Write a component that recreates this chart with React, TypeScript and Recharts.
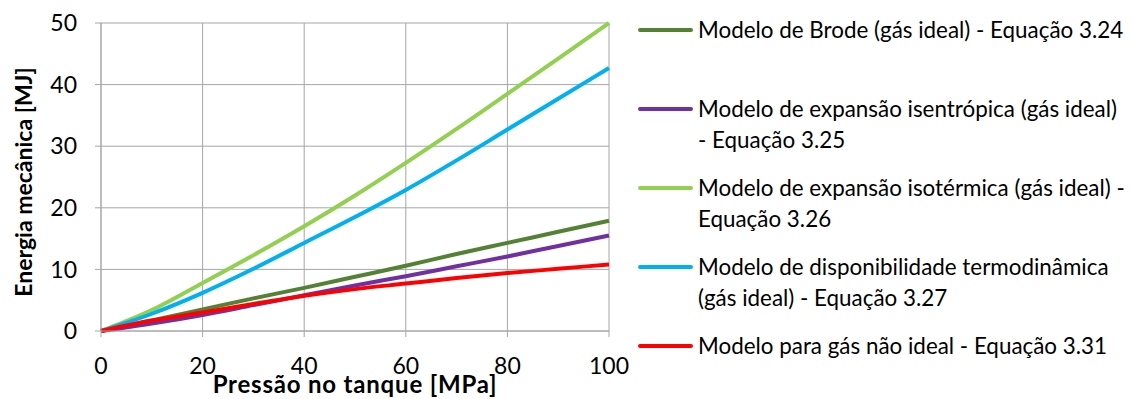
import React from 'react'
import { LineChart, Line, XAxis, YAxis, CartesianGrid, Legend } from 'recharts'

const PRESSURE = [0, 10, 20, 30, 40, 50, 60, 70, 80, 90, 100]

const BRODE = [0, 1.7, 3.5, 5.3, 7.0, 8.8, 10.6, 12.5, 14.3, 16.1, 17.9]
const ISENTROPIC = [0, 1.2, 2.6, 4.2, 5.8, 7.4, 8.9, 10.5, 12.1, 13.8, 15.5]
const ISOTHERMAL = [0, 3.4, 7.8, 12.3, 17.0, 22.0, 27.3, 32.8, 38.5, 44.2, 50.0]
const AVAILABILITY = [0, 2.8, 6.2, 10.1, 14.3, 18.5, 22.9, 27.7, 32.7, 37.7, 42.7]
const NON_IDEAL = [0, 1.7, 3.0, 4.4, 5.7, 6.8, 7.7, 8.6, 9.4, 10.1, 10.8]

const X_TICKS = [0, 20, 40, 60, 80, 100]
const Y_TICKS = [0, 10, 20, 30, 40, 50]

const SERIES = [
  { key: 'brode', label: 'Modelo de Brode (gás ideal) - Equação 3.24', color: '#548235', values: BRODE },
  { key: 'isentropic', label: 'Modelo de expansão isentrópica (gás ideal)\n- Equação 3.25', color: '#7030A0', values: ISENTROPIC },
  { key: 'isothermal', label: 'Modelo de expansão isotérmica (gás ideal) -\nEquação 3.26', color: '#92D050', values: ISOTHERMAL },
  { key: 'availability', label: 'Modelo de disponibilidade termodinâmica\n(gás ideal) - Equação 3.27', color: '#00B0F0', values: AVAILABILITY },
  { key: 'nonideal', label: 'Modelo para gás não ideal - Equação 3.31', color: '#FF0000', values: NON_IDEAL },
]

const data = PRESSURE.map((p, i) => {
  const row: Record<string, number> = { p }
  SERIES.forEach((s) => { row[s.key] = s.values[i] })
  return row
})

const FONT = 'Lato, "Open Sans", sans-serif'
const GRID = '#a6a6a6'

function XTitle({ viewBox }: any) {
  const cx = viewBox.x + viewBox.width / 2
  return (
    <text x={cx} y={viewBox.y + 62} textAnchor="middle" letterSpacing={0.8}
      fontFamily={FONT} fontWeight={700} fontSize={24} fill="#000">
      Pressão no tanque [MPa]
    </text>
  )
}

function YTitle({ viewBox }: any) {
  const cy = viewBox.y + viewBox.height / 2 + 5
  const cx = 23
  return (
    <text x={cx} y={cy} textAnchor="middle" dominantBaseline="central"
      transform={`rotate(-90, ${cx}, ${cy})`}
      fontFamily={FONT} fontWeight={700} fontSize={23} fill="#000">
      Energia mecânica [MJ]
    </text>
  )
}

function LegendBox() {
  return (
    <div style={{ fontFamily: FONT, fontSize: 22.4, color: '#000', width: 560 }}>
      {SERIES.map((s) => (
        <div key={s.key} style={{ display: 'flex', height: 79, alignItems: 'flex-start' }}>
          <div style={{ width: 55, height: 31, display: 'flex', alignItems: 'center', marginRight: 5, flexShrink: 0 }}>
            <div style={{ width: 55, height: 4, borderRadius: 2, background: s.color }} />
          </div>
          <div style={{ whiteSpace: 'pre', lineHeight: '31px' }}>{s.label}</div>
        </div>
      ))}
    </div>
  )
}

export default function App() {
  return (
    <div style={{ position: 'fixed', left: 0, top: 0, width: 1133, height: 399, background: '#fff', overflow: 'hidden' }}>
      <LineChart width={1133} height={399} data={data}
        margin={{ top: 23, right: 524, bottom: 0, left: 0 }}>
        <CartesianGrid stroke={GRID} strokeWidth={1} />
        <XAxis dataKey="p" type="number" domain={[0, 100]} ticks={X_TICKS}
          stroke={GRID} tickSize={6} tickMargin={21} height={68}
          tick={{ fill: '#000', fontSize: 23, fontFamily: FONT }}
          label={<XTitle />} />
        <YAxis type="number" domain={[0, 50]} ticks={Y_TICKS} width={101}
          stroke={GRID} tickSize={6} tickMargin={18}
          tick={{ fill: '#000', fontSize: 23, fontFamily: FONT }}
          label={<YTitle />} />
        <Legend layout="vertical" align="center" verticalAlign="middle"
          wrapperStyle={{ position: 'absolute', left: 638, top: 14, width: 560 }}
          content={() => <LegendBox />} />
        {SERIES.map((s) => (
          <Line key={s.key} type="monotone" dataKey={s.key} name={s.label}
            stroke={s.color} strokeWidth={4} dot={false} isAnimationActive={false} />
        ))}
      </LineChart>
    </div>
  )
}
